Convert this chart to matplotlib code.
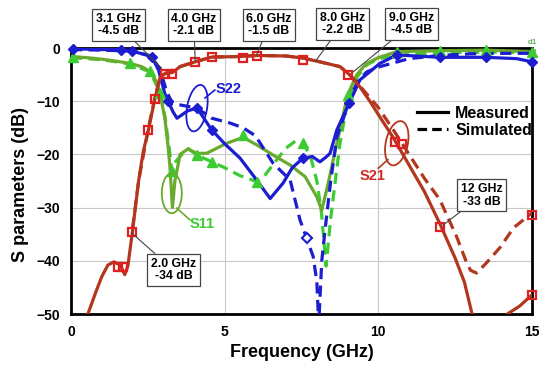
import matplotlib
matplotlib.use("Agg")
import matplotlib.pyplot as plt
from matplotlib.lines import Line2D
from matplotlib.patches import Ellipse
from matplotlib.transforms import ScaledTranslation

plt.rcParams['font.family'] = ['Liberation Sans', 'DejaVu Sans']
plt.rcParams['font.weight'] = 'bold'

# ---------------- data ----------------
# S21 measured (solid)
s21_meas_f = [0.55, 0.8, 1.0, 1.2, 1.4, 1.6, 1.75, 1.85, 2.0, 2.2, 2.35, 2.52, 2.73, 2.9, 3.06,
              3.3, 3.55, 4.04, 4.58, 5.5, 6.04, 7.0, 7.56, 8.1, 8.75, 9.08, 9.4, 9.7, 10.0, 10.5,
              11.0, 11.5, 12.0, 12.5, 12.8, 13.05, 13.3]
s21_meas_db = [-50, -46, -43, -40.8, -40.2, -40.8, -42.6, -41, -34.5, -25, -19.5, -15.4, -9.5, -5.5, -4.8,
               -4.6, -3.5, -2.6, -1.7, -1.6, -1.4, -1.5, -1.9, -2.6, -3.5, -5.1, -7.3, -9.8, -12.5, -17,
               -22, -27, -33, -39.5, -44, -50, -55]
s21_meas_hi_f = [13.9, 14.2, 14.6, 15.0]
s21_meas_hi_db = [-53, -50, -48.5, -46.4]
# S21 simulated (dashed)
s21_sim_f = [2.0, 2.2, 2.52, 2.73, 2.9, 3.06, 3.55, 4.04, 4.58, 5.5, 6.04, 7.0, 7.56, 8.1, 8.75, 9.08,
             9.5, 10.0, 10.5, 11.0, 11.5, 12.0, 12.55, 12.85, 13.0, 13.2, 13.5, 13.96, 14.4, 15.0]
s21_sim_db = [-34, -25, -15, -9.3, -5.6, -4.8, -3.5, -2.6, -1.7, -1.6, -1.4, -1.5, -1.9, -2.6, -3.5, -5.1,
              -7.8, -11.2, -15.5, -20, -24.5, -28.5, -35.5, -40, -41.8, -42.3, -40.5, -37.5, -33.8, -31]
s21_mk_f = [1.54, 1.7, 2.0, 2.52, 2.73, 3.06, 3.28, 4.04, 4.58, 5.6, 6.04, 7.55, 9.0, 10.55, 10.76, 12.0, 15.0, 15.0]
s21_mk_db = [-41.1, -41.1, -34.5, -15.4, -9.5, -4.8, -4.8, -2.6, -1.6, -1.9, -1.5, -2.3, -5.1, -17.6, -18, -33.6, -31.3, -46.4]

# S22 measured (solid)
s22_meas_f = [0, 0.5, 1.0, 1.63, 1.97, 2.25, 2.63, 2.85, 3.05, 3.16, 3.32, 3.45, 3.6, 3.8, 4.1, 4.3, 4.58,
              5.0, 5.5, 6.04, 6.48, 6.9, 7.2, 7.55, 7.85, 8.1, 8.3, 8.43, 8.65, 9.05, 9.4, 10.05, 10.6,
              12.0, 13.5, 14.5, 15.0]
s22_meas_db = [-0.2, -0.2, -0.3, -0.3, -0.5, -1.0, -1.6, -4.2, -8.5, -10, -12, -13.2, -12.6, -11.8, -11.3, -13, -15.4,
               -18, -20.7, -24.8, -28.3, -25.4, -22.5, -20.7, -20.4, -21.4, -20.5, -19.8, -15.4, -10.4, -6, -2.9, -1.3,
               -1.75, -1.75, -2.0, -2.6]
# S22 simulated (dashed)
s22_sim_f = [0, 1.0, 2.0, 2.6, 2.9, 3.1, 3.3, 3.55, 4.1, 4.58, 5.17, 5.6, 6.0, 6.58, 7.13, 7.45, 7.67, 7.88,
             8.0, 8.06, 8.16, 8.27, 8.45, 8.65, 9.0, 9.3, 9.62, 10.05, 11.0, 12.0, 13.0, 14.0, 15.0]
s22_sim_db = [-0.3, -0.4, -0.6, -1.5, -4.0, -8, -10.5, -10.7, -11.3, -13.2, -14.1, -15, -16.5, -21.7, -24.8, -32.3,
              -35.8, -39.2, -44, -52, -40, -34, -25, -16.7, -11, -6.5, -4.5, -3.5, -2.0, -1.4, -1.1, -1.0, -1.0]
s22_mk_f = [0.08, 1.63, 1.97, 2.63, 3.16, 4.1, 4.58, 7.55, 9.05, 10.6, 12.0, 13.5, 15.0]
s22_mk_db = [-0.1, -0.3, -0.5, -1.6, -10, -11.3, -15.4, -20.7, -10.4, -1.3, -1.75, -1.75, -2.6]
s22_sim_mk_f = [7.67]
s22_sim_mk_db = [-35.8]

# S11 measured (solid)
s11_meas_f = [0, 0.5, 1.0, 1.5, 1.92, 2.3, 2.57, 2.75, 2.9, 3.06, 3.15, 3.22, 3.3, 3.38, 3.55, 3.8, 4.1, 4.41,
              5.07, 5.6, 6.04, 6.57, 7.13, 7.62, 8.0, 8.16, 8.37, 8.6, 8.75, 9.0, 9.3, 9.6, 10.0, 10.6, 12.0,
              13.5, 15.0]
s11_meas_db = [-1.6, -1.8, -2.1, -2.5, -2.9, -3.5, -4.4, -6, -8.5, -13.5, -18, -22.3, -30, -25, -20, -19, -19.8,
               -19.8, -17.9, -16.8, -18.2, -20.1, -22, -24.2, -28, -30.5, -25.4, -19.2, -15.4, -8.8, -5, -3, -1.8,
               -0.7, -0.5, -0.4, -0.7]
# S11 simulated (dashed)
s11_sim_f = [0, 1.0, 1.92, 2.57, 2.9, 3.06, 3.2, 3.28, 3.38, 3.55, 3.82, 4.09, 4.58, 5.0, 5.5, 6.04, 6.3, 6.64,
             7.0, 7.3, 7.56, 7.8, 8.0, 8.15, 8.3, 8.45, 8.75, 9.0, 9.3, 9.62, 10.0, 11.0, 12.0, 13.0, 14.0, 15.0]
s11_sim_db = [-1.8, -2.2, -3.0, -4.5, -8.3, -13, -19, -23.2, -21.5, -20.4, -18.9, -20.1, -21.4, -22.5, -24, -25.1,
              -24, -21.4, -18.8, -17.5, -17.9, -20.5, -25, -31, -41, -32, -18, -10, -5.5, -3.2, -2, -1.2, -0.9,
              -0.8, -0.8, -0.9]
s11_mk_f = [0.08, 1.92, 2.57, 2.9, 3.28, 4.09, 4.58, 5.6, 6.04, 7.56, 9.0, 10.6, 12.0, 13.5, 15.0]
s11_mk_db = [-1.6, -2.9, -4.4, -8.5, -23.2, -20.1, -21.4, -16.4, -25.1, -17.9, -8.8, -0.7, -0.6, -0.4, -0.7]

x_ticks = [0, 5, 10, 15]
y_ticks = [-50, -40, -30, -20, -10, 0]

# ---------------- styles ----------------
C21 = '#b3361e'
C21M = '#e02020'
C22 = '#1c1cd0'
C11M = '#6aaa2e'
C11S = '#3ccc32'
LW = 2.3
DASH = (0, (3.5, 2))

fig = plt.figure(figsize=(5.5, 3.72), dpi=100)
ax = fig.add_axes([71/550, 1-314/372, 461/550, 266/372])

ax.set_xlim(0, 15)
ax.set_ylim(-50, 0)
ax.set_xticks(x_ticks)
ax.set_yticks(y_ticks)
ax.grid(True, color='#c8c8c8', lw=0.8)
ax.set_axisbelow(True)
for s in ax.spines.values():
    s.set_linewidth(2)
    s.set_color('black')
ax.tick_params(length=0, pad=8, labelsize=10)
for lab in ax.get_xticklabels() + ax.get_yticklabels():
    lab.set_fontweight('bold')

# S11
ax.plot(s11_sim_f, s11_sim_db, color=C11S, lw=LW, ls=DASH, zorder=3)
ax.plot(s11_meas_f, s11_meas_db, color=C11M, lw=LW, zorder=3)
ax.plot(s11_mk_f, s11_mk_db, ls='none', marker='^', ms=7, color=C11S, mec=C11S, zorder=5, clip_on=False)
# S22
ax.plot(s22_sim_f, s22_sim_db, color=C22, lw=LW, ls=DASH, zorder=4)
ax.plot(s22_meas_f, s22_meas_db, color=C22, lw=LW, zorder=4)
ax.plot(s22_mk_f, s22_mk_db, ls='none', marker='D', ms=5.5, color=C22, zorder=6, clip_on=False)
ax.plot(s22_sim_mk_f, s22_sim_mk_db, ls='none', marker='D', ms=5, mfc='white', mec=C22, mew=1.5, zorder=6)
# S21
ax.plot(s21_sim_f, s21_sim_db, color=C21, lw=LW, ls=DASH, zorder=4)
ax.plot(s21_meas_f, s21_meas_db, color=C21, lw=LW, zorder=4)
ax.plot(s21_meas_hi_f, s21_meas_hi_db, color=C21, lw=LW, zorder=4)
ax.plot(s21_mk_f, s21_mk_db, ls='none', marker='s', ms=6, mfc='none', mec=C21M, mew=1.6, zorder=7, clip_on=False)

# small marker labels at right
ax.text(15.0, 1.0, 'd1', color='#2a9a2a', fontsize=6, ha='center', va='center', fontweight='normal')
ax.text(15.0, -0.9, 'd3', color='#2a9a2a', fontsize=6, ha='center', va='center', fontweight='normal')

# annotation boxes
ann = [
    ('3.1 GHz\n-4.5 dB', (2.95, -3.8), (1.54, 4.3)),
    ('4.0 GHz\n-2.1 dB', (4.04, -2.4), (4.0, 4.3)),
    ('6.0 GHz\n-1.5 dB', (6.04, -1.3), (6.44, 4.3)),
    ('8.0 GHz\n-2.2 dB', (7.94, -2.6), (8.83, 4.5)),
    ('9.0 GHz\n-4.5 dB', (9.18, -4.5), (11.08, 4.5)),
    ('12 GHz\n-33 dB', (12.1, -33.3), (13.37, -27.7)),
    ('2.0 GHz\n-34 dB', (1.98, -34.8), (3.33, -41.7)),
]
for txt, xy, xyt in ann:
    ax.annotate(txt, xy=xy, xytext=xyt, textcoords='data', fontsize=8.8, fontweight='bold',
                ha='center', va='center', multialignment='center', annotation_clip=False,
                linespacing=1.05,
                bbox=dict(boxstyle='square,pad=0.3', fc='white', ec='#444444', lw=0.9),
                arrowprops=dict(arrowstyle='-', color='#444444', lw=0.8, shrinkA=0, shrinkB=0),
                zorder=10)

# ellipses around curves + labels
def ell(x, y, wpx, hpx, ang, color):
    tr = fig.dpi_scale_trans + ScaledTranslation(x, y, ax.transData)
    e = Ellipse((0, 0), wpx/100, hpx/100, angle=ang, transform=tr, fill=False, ec=color, lw=1.3, zorder=8)
    ax.add_patch(e)

ell(4.1, -11.3, 20, 47, -10, C22)
ell(3.28, -27.3, 20, 40, 0, C11M)
ell(10.6, -17.9, 22, 45, -12, C21)

ax.plot([4.36, 4.68], [-9.4, -7.9], color=C22, lw=1.2, zorder=8)
ax.text(4.72, -7.8, 'S22', color=C22, fontsize=10.5, fontweight='bold', ha='left', va='center', zorder=9)
ax.plot([3.44, 3.87], [-30.1, -32.3], color=C11M, lw=1.2, zorder=8)
ax.text(3.87, -33.1, 'S11', color=C11S, fontsize=10.5, fontweight='bold', ha='left', va='center', zorder=9)
ax.plot([10.31, 10.0], [-21.0, -22.6], color=C21, lw=1.2, zorder=8)
ax.text(9.8, -24.1, 'S21', color='#d02a20', fontsize=10.5, fontweight='bold', ha='center', va='center', zorder=9)

# legend
handles = [Line2D([], [], color='black', lw=LW), Line2D([], [], color='black', lw=LW, ls=(0, (3, 1.6)))]
leg = ax.legend(handles, ['Measured', 'Simulated'], loc='upper left', bbox_to_anchor=(0.7505, 0.782),
                frameon=False, borderpad=0, borderaxespad=0, handlelength=1.95, handletextpad=0.45,
                labelspacing=0.1, prop=dict(size=11.5, weight='bold'))

ax.set_xlabel('Frequency (GHz)', fontsize=13, fontweight='bold')
ax.set_ylabel('S parameters (dB)', fontsize=13, fontweight='bold')
ax.xaxis.label.set_va('center')
ax.yaxis.label.set_va('center')
ax.xaxis.set_label_coords(0.501, -0.143)
ax.yaxis.set_label_coords(-0.1106, 0.485)

fig.savefig('out.png', dpi=100)
